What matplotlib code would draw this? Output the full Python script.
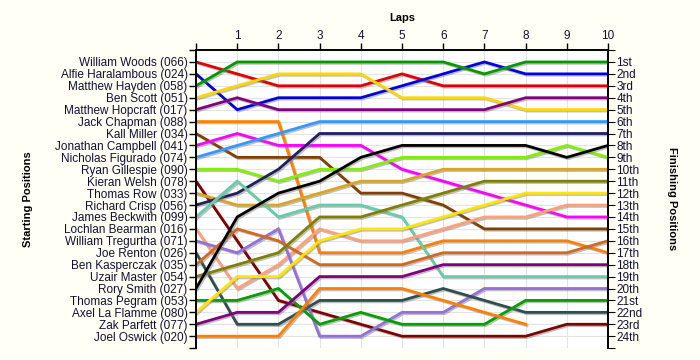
import numpy as np
import matplotlib.pyplot as plt
import matplotlib.patheffects as pe

plt.rcParams['font.family'] = ['Liberation Sans', 'DejaVu Sans']

# drivers in starting order, with car numbers
drivers = ['William Woods', 'Alfie Haralambous', 'Matthew Hayden', 'Ben Scott',
           'Matthew Hopcraft', 'Jack Chapman', 'Kall Miller', 'Jonathan Campbell',
           'Nicholas Figurado', 'Ryan Gillespie', 'Kieran Welsh', 'Thomas Row',
           'Richard Crisp', 'James Beckwith', 'Lochlan Bearman', 'William Tregurtha',
           'Joe Renton', 'Ben Kasperczak', 'Uzair Master', 'Rory Smith',
           'Thomas Pegram', 'Axel La Flamme', 'Zak Parfett', 'Joel Oswick']
numbers = ['066', '024', '058', '051', '017', '088', '034', '041', '074', '090', '078', '033',
           '056', '099', '016', '071', '026', '035', '054', '027', '053', '080', '077', '020']

laps = list(range(11))

# position of each driver at end of each lap (lap 0 = grid)
pos = [
    [1, 2, 3, 3, 3, 2, 3, 3, 3, 3, 3],
    [2, 5, 4, 4, 4, 3, 2, 1, 2, 2, 2],
    [3, 1, 1, 1, 1, 1, 1, 2, 1, 1, 1],
    [4, 3, 2, 2, 2, 4, 4, 4, 5, 5, 5],
    [5, 4, 5, 5, 5, 5, 5, 5, 4, 4, 4],
    [6, 6, 6, 17, 17, 17, 16, 16, 16, 16, 17],
    [7, 9, 9, 9, 12, 12, 13, 15, 15, 15, 15],
    [8, 7, 8, 8, 8, 10, 11, 12, 13, 14, 14],
    [9, 8, 7, 6, 6, 6, 6, 6, 6, 6, 6],
    [10, 10, 11, 10, 10, 9, 9, 9, 9, 8, 9],
    [11, 16, 21, 22, 23, 24, 24, 24, 24, 23, 23],
    [12, 13, 13, 12, 11, 11, 10, 10, 10, 10, 10],
    [13, 12, 10, 7, 7, 7, 7, 7, 7, 7, 7],
    [14, 11, 14, 13, 13, 14, 19, 19, 19, 19, 19],
    [15, 20, 18, 15, 16, 16, 15, 14, 14, 13, 13],
    [16, 17, 15, 24, 24, 22, 22, 20, 20, 20, 20],
    [17, 23, 23, 21, 21, 21, 20, 21, 22, 22, 22],
    [18, 15, 16, 18, 18, 18, 17, 17, 17, 17, 16],
    [19, 18, 17, 14, 14, 13, 12, 11, 11, 11, 11],
    [20, 14, 12, 11, 9, 8, 8, 8, 8, 9, 8],
    [21, 21, 20, 23, 22, 23, 23, 23, 21, 21, 21],
    [22, 19, 19, 16, 15, 15, 14, 13, 12, 12, 12],
    [23, 22, 22, 19, 19, 19, 18, 18, 18, 18, 18],
    [24, 24, 24, 20, 20, 20, 21, 22, 23, np.nan, np.nan],
]

colors = ['#E00000', '#0000DD', '#009900', '#FFD700', '#800080', '#FF8000',
          '#804000', '#FF00FF', '#3399FF', '#80F000', '#800000', '#DAA520',
          '#202060', '#66CDAA', '#FFA07A', '#9370DB', '#2F4F4F', '#D2691E',
          '#808000', '#000000', '#00A000', '#FFE600', '#800080', '#FF8000']

finish_labels = ['1st', '2nd', '3rd'] + [f'{i}th' for i in range(4, 21)] + ['21st', '22nd', '23rd', '24th']

txt = '#101030'
fig = plt.figure(figsize=(7, 3.6), dpi=100, facecolor='#FFFFF6')
ax = fig.add_axes([0.28, 0.033, 0.5886, 0.828])
ax.set_facecolor('white')

for p, c in zip(pos, colors):
    ax.plot(laps, p, color=c, lw=2.0, solid_joinstyle='miter',
            path_effects=[pe.SimpleLineShadow(offset=(1, -1), shadow_color='gray', alpha=0.5),
                          pe.Normal()])

ax.set_xlim(0, 10)
ax.set_ylim(25, 0)
ax.set_xticks(laps)
ax.set_xticklabels([''] + [str(i) for i in laps[1:]])
ax.xaxis.tick_top()
ax.set_yticks(range(26))
ax.set_yticklabels([''] + [f'{d} ({n})' for d, n in zip(drivers, numbers)] + [''])
ax.tick_params(axis='both', direction='out', length=5, width=1, colors='black',
               labelcolor=txt, labelsize=8.5, pad=1)
ax.tick_params(axis='y', right=True)
ax.grid(True, color='#E4E4E4', lw=0.8)
ax.set_axisbelow(True)

ax2 = ax.twinx()
ax2.set_ylim(25, 0)
ax2.set_yticks(range(26))
ax2.set_yticklabels([''] + finish_labels + [''])
ax2.tick_params(axis='y', direction='out', length=5, labelcolor=txt, labelsize=8.5, pad=1)

for a in (ax, ax2):
    a.spines['bottom'].set_visible(False)
    for s in ('top', 'left', 'right'):
        a.spines[s].set_linewidth(1.2)

fig.text(0.574, 0.95, 'Laps', ha='center', va='center', fontsize=8, fontweight='bold')
fig.text(0.04, 0.447, 'Starting Positions', ha='center', va='center', rotation=90,
         fontsize=8, fontweight='bold')
fig.text(0.96, 0.447, 'Finishing Positions', ha='center', va='center', rotation=270,
         fontsize=8, fontweight='bold')

fig.savefig('out.png', dpi=100, facecolor=fig.get_facecolor())
